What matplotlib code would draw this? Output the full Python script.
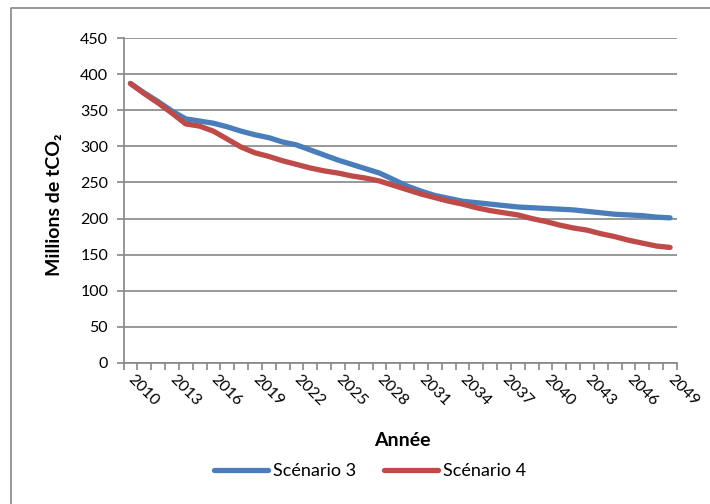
import numpy as np
import matplotlib
matplotlib.use("Agg")
import matplotlib.pyplot as plt
from matplotlib.lines import Line2D

plt.rcParams['font.family'] = ['Lato', 'DejaVu Sans']

years = list(range(2010, 2050))
scenario_3 = [387, 374, 362, 349, 338, 335, 332, 327, 321, 316,
              312, 306, 302, 295, 288, 281, 275, 269, 263, 254,
              245, 238, 232, 228, 224, 222, 220, 218, 216, 215,
              214, 213, 212, 210, 208, 206, 205, 204, 202, 201]
scenario_4 = [387, 373, 360, 346, 331, 328, 321, 310, 299, 291,
              286, 280, 275, 270, 266, 263, 259, 256, 252, 246,
              240, 234, 229, 224, 220, 215, 211, 208, 205, 200,
              196, 191, 187, 184, 179, 175, 170, 166, 162, 160]
y_ticks = [0, 50, 100, 150, 200, 250, 300, 350, 400, 450]

grey = '#868686'
W, H = 710, 504

fig = plt.figure(figsize=(W / 100, H / 100), dpi=100)
# chart border: only the top and left edges fall inside the picture
fig.lines.append(Line2D([11 / W, 11 / W, 1.0], [0.0, 1 - 8 / H, 1 - 8 / H],
                        transform=fig.transFigure, color=grey, lw=1.2))
ax = fig.add_axes([123.5 / W, 1 - 363 / H, (677 - 123.5) / W, 325 / H])

pos = np.arange(len(years)) + 0.5
ax.plot(pos, scenario_3, color='#4A7EBB', lw=3.8, label='Scénario 3',
        solid_capstyle='round', solid_joinstyle='round', zorder=3)
ax.plot(pos, scenario_4, color='#BE4B48', lw=3.8, label='Scénario 4',
        solid_capstyle='round', solid_joinstyle='round', zorder=3)

ax.set_xlim(0, len(years))
ax.set_ylim(0, 450)
ax.set_yticks(y_ticks)
ax.grid(axis='y', color=grey, lw=1.2)
ax.set_axisbelow(True)

# category boundaries get the tick marks, labels sit at every third category
ax.set_xticks(np.arange(len(years) + 1))
ax.set_xticklabels([])
lab_idx = list(range(0, len(years), 3))
ax.set_xticks(pos[lab_idx], minor=True)
ax.set_xticklabels([str(years[i]) for i in lab_idx], minor=True,
                   rotation=-45, ha='left', va='center', rotation_mode='anchor')
ax.tick_params(axis='x', which='major', length=5, color=grey, width=1.2)
ax.tick_params(axis='x', which='minor', length=0, pad=10, labelsize=11.5)
ax.tick_params(axis='y', length=5, color=grey, width=1.2, labelsize=11.5, pad=6)

for s in ['top', 'right']:
    ax.spines[s].set_visible(False)
for s in ['left', 'bottom']:
    ax.spines[s].set_color(grey)
    ax.spines[s].set_linewidth(1.2)

fig.text(55 / W, 1 - 205 / H, 'Millions de tCO₂', fontsize=14, fontweight='bold',
         ha='center', va='center', rotation=90)
fig.text(402 / W, 1 - 440 / H, 'Année', fontsize=14, fontweight='bold',
         ha='center', va='center')

fig.legend(loc='center', bbox_to_anchor=(370 / W, 1 - 471 / H), ncol=2,
           frameon=False, fontsize=13, handlelength=3.0, handletextpad=0.28,
           columnspacing=1.5, borderpad=0)

fig.savefig('out.png', dpi=100)
